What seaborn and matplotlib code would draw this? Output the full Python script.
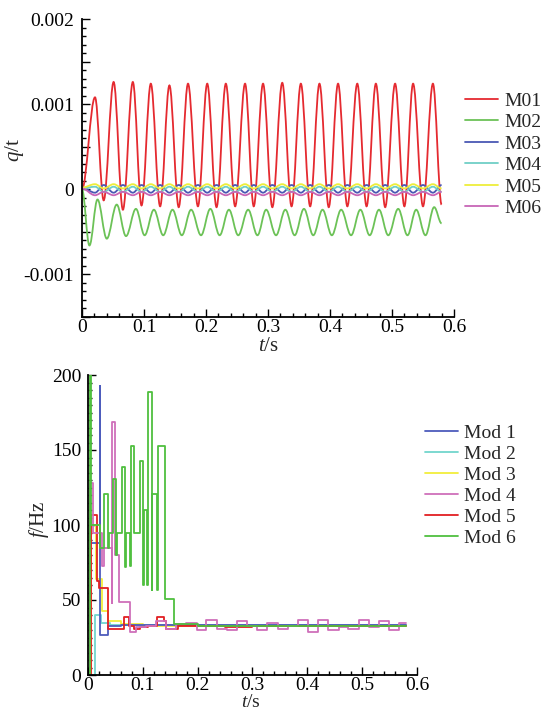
import numpy as np
import pandas as pd
import seaborn as sns
import matplotlib
matplotlib.use("Agg")
import matplotlib.pyplot as plt
from matplotlib.ticker import MultipleLocator, FixedLocator, FixedFormatter
from matplotlib.path import Path
from matplotlib.patches import PathPatch
from matplotlib.lines import Line2D

# ---------------- data ----------------
# upper panel: modal coordinates q/t, extremum points of each curve
t_ext = [0.000, 0.021, 0.035, 0.051, 0.066, 0.082, 0.096, 0.111, 0.126, 0.141,
         0.156, 0.171, 0.187, 0.202, 0.217, 0.232, 0.247, 0.263, 0.277, 0.292,
         0.307, 0.323, 0.338, 0.353, 0.368, 0.383, 0.398, 0.413, 0.428, 0.444,
         0.459, 0.474, 0.489, 0.505, 0.520, 0.534, 0.550, 0.566, 0.580]
m01 = [0.0, 0.00108, -0.00013, 0.00126, -0.00024, 0.00126, -0.00019, 0.00124, -0.00020, 0.00122,
       -0.00021, 0.00124, -0.00020, 0.00124, -0.00021, 0.00124, -0.00020, 0.00124, -0.00020, 0.00124,
       -0.00021, 0.00125, -0.00020, 0.00124, -0.00020, 0.00124, -0.00021, 0.00124, -0.00020, 0.00124,
       -0.00020, 0.00124, -0.00021, 0.00124, -0.00020, 0.00124, -0.00020, 0.00124, -0.00018]
m03 = [0.00002, -0.00004, 0.00005, -0.00004, 0.00005, -0.00004, 0.00005, -0.00004, 0.00005, -0.00004,
       0.00005, -0.00004, 0.00005, -0.00004, 0.00005, -0.00004, 0.00005, -0.00004, 0.00005, -0.00004,
       0.00005, -0.00004, 0.00005, -0.00004, 0.00005, -0.00004, 0.00005, -0.00004, 0.00005, -0.00004,
       0.00005, -0.00004, 0.00005, -0.00004, 0.00005, -0.00004, 0.00005, -0.00004, 0.00005]
m04 = [0.00001, 0.00003, -0.00003, 0.00003, -0.00003, 0.00003, -0.00003, 0.00003, -0.00003, 0.00003,
       -0.00003, 0.00003, -0.00003, 0.00003, -0.00003, 0.00003, -0.00003, 0.00003, -0.00003, 0.00003,
       -0.00003, 0.00003, -0.00003, 0.00003, -0.00003, 0.00003, -0.00003, 0.00003, -0.00003, 0.00003,
       -0.00003, 0.00003, -0.00003, 0.00003, -0.00003, 0.00003, -0.00003, 0.00003, -0.00003]
m05 = [0.00002, 0.00006, 0.00001, 0.00006, 0.00001, 0.00006, 0.00001, 0.00006, 0.00001, 0.00006,
       0.00001, 0.00006, 0.00001, 0.00006, 0.00001, 0.00006, 0.00001, 0.00006, 0.00001, 0.00006,
       0.00001, 0.00006, 0.00001, 0.00006, 0.00001, 0.00006, 0.00001, 0.00006, 0.00001, 0.00006,
       0.00001, 0.00006, 0.00001, 0.00006, 0.00001, 0.00006, 0.00001, 0.00006, 0.00001]
m06 = [0.00001, -0.00007, -0.00003, -0.00007, -0.00003, -0.00007, -0.00003, -0.00007, -0.00003, -0.00007,
       -0.00003, -0.00007, -0.00003, -0.00007, -0.00003, -0.00007, -0.00003, -0.00007, -0.00003, -0.00007,
       -0.00003, -0.00007, -0.00003, -0.00007, -0.00003, -0.00007, -0.00003, -0.00007, -0.00003, -0.00007,
       -0.00003, -0.00007, -0.00003, -0.00007, -0.00003, -0.00007, -0.00003, -0.00007, -0.00003]

t_m02 = [0.000, 0.012, 0.025, 0.040, 0.056, 0.071, 0.087, 0.101, 0.116, 0.131, 0.146, 0.161,
         0.176, 0.192, 0.207, 0.222, 0.237, 0.252, 0.268, 0.283, 0.297, 0.313, 0.328, 0.343,
         0.358, 0.373, 0.388, 0.403, 0.418, 0.434, 0.449, 0.464, 0.479, 0.494, 0.510, 0.525,
         0.539, 0.554, 0.568, 0.580]
m02 = [0.0, -0.00066, -0.00012, -0.00058, -0.00018, -0.00055, -0.00023, -0.00054, -0.00024, -0.00054,
       -0.00024, -0.00054, -0.00024, -0.00054, -0.00023, -0.00054, -0.00024, -0.00054, -0.00024, -0.00054,
       -0.00024, -0.00054, -0.00024, -0.00054, -0.00023, -0.00054, -0.00024, -0.00054, -0.00024, -0.00054,
       -0.00024, -0.00054, -0.00024, -0.00054, -0.00023, -0.00054, -0.00024, -0.00054, -0.00021, -0.00040]

q_names = ["M01", "M02", "M03", "M04", "M05", "M06"]
q_colors = ["#e52a30", "#6cc257", "#4a58b4", "#6fcfc6", "#eeee3a", "#c766b6"]

# lower panel: instantaneous frequency f/Hz (step curves)
mod1_t = [0, 0.004, 0.004, 0.021, 0.021, 0.022, 0.022, 0.037, 0.037, 0.060, 0.060, 0.580]
mod1_f = [0, 0, 88, 88, 193, 193, 27, 27, 33, 33, 33.5, 33.5]
mod2_t = [0, 0.013, 0.013, 0.024, 0.024, 0.040, 0.040, 0.580]
mod2_f = [0, 0, 40, 40, 35, 35, 33.5, 33.5]
mod3_t = [0, 0.006, 0.006, 0.014, 0.014, 0.025, 0.025, 0.037, 0.037, 0.060, 0.060, 0.100, 0.100, 0.580]
mod3_f = [0, 0, 100, 100, 64, 64, 43, 43, 36, 36, 34, 34, 33, 33]
mod4_t = [0, 0.004, 0.004, 0.009, 0.009, 0.025, 0.025, 0.030, 0.030, 0.043, 0.043, 0.0445, 0.0445,
          0.049, 0.049, 0.057, 0.057, 0.077, 0.077,
          0.087, 0.087, 0.105, 0.105, 0.124, 0.124, 0.142, 0.142, 0.161, 0.161, 0.179, 0.179,
          0.198, 0.198, 0.216, 0.216, 0.235, 0.235, 0.253, 0.253, 0.272, 0.272, 0.290, 0.290,
          0.309, 0.309, 0.327, 0.327, 0.346, 0.346, 0.364, 0.364, 0.383, 0.383, 0.401, 0.401,
          0.420, 0.420, 0.438, 0.438, 0.457, 0.457, 0.475, 0.475, 0.494, 0.494, 0.512, 0.512,
          0.531, 0.531, 0.549, 0.549, 0.568, 0.568, 0.580]
mod4_f = [0, 0, 128, 128, 95, 95, 73, 73, 85, 85, 48, 48, 169,
          169, 80, 80, 49, 49, 29,
          29, 32, 32, 33, 33, 36, 36, 31, 31, 34, 34, 35,
          35, 30, 30, 37, 37, 31, 31, 30, 30, 36, 36, 33,
          33, 30, 30, 35, 35, 31, 31, 33, 33, 37, 37, 29,
          29, 37, 37, 30, 30, 32, 32, 31, 31, 37, 37, 32,
          32, 36, 36, 30, 30, 35, 35]
mod5_t = [0, 0.006, 0.006, 0.016, 0.016, 0.020, 0.020, 0.037, 0.037, 0.065, 0.065, 0.075, 0.075,
          0.083, 0.083, 0.095, 0.095, 0.110, 0.110, 0.125, 0.125, 0.138, 0.138, 0.143, 0.143,
          0.165, 0.165, 0.250, 0.250, 0.300, 0.300, 0.400, 0.400, 0.450, 0.450, 0.580]
mod5_f = [0, 0, 107, 107, 63, 63, 58, 58, 31, 31, 39, 39, 33,
          33, 31, 31, 32, 32, 33, 33, 39, 39, 36, 36, 31,
          31, 33, 33, 32, 32, 33, 33, 32.5, 32.5, 33, 33]
mod6_t = [0, 0.003, 0.003, 0.005, 0.005, 0.022, 0.022, 0.030, 0.030, 0.036, 0.036, 0.038, 0.038,
          0.046, 0.046, 0.051, 0.051, 0.0525, 0.0525, 0.062, 0.062, 0.068, 0.068, 0.0695, 0.0695,
          0.0765, 0.0765, 0.078, 0.078, 0.084, 0.084, 0.094, 0.094, 0.100, 0.100, 0.1015, 0.1015,
          0.108, 0.108, 0.1095, 0.1095, 0.116, 0.116, 0.1175, 0.1175, 0.126, 0.126, 0.1275, 0.1275,
          0.140, 0.140, 0.156, 0.156, 0.200, 0.200, 0.580]
mod6_f = [0, 0, 205, 205, 100, 100, 85, 85, 121, 121, 85, 85, 95,
          95, 131, 131, 80, 80, 95, 95, 139, 139, 72, 72, 95,
          95, 73, 73, 153, 153, 95, 95, 143, 143, 60, 60, 110,
          110, 60, 60, 189, 189, 57, 57, 121, 121, 57, 57, 153,
          153, 51, 51, 34, 34, 33, 33]

f_names = ["Mod 1", "Mod 2", "Mod 3", "Mod 4", "Mod 5", "Mod 6"]
f_colors = ["#4d5cbc", "#72d6cd", "#f2ee3c", "#cf6fba", "#e21f22", "#4fbf3f"]

q_ticks = [-0.0015, -0.001, -0.0005, 0, 0.0005, 0.001, 0.0015, 0.002]
q_ticklabels = ["", "-0.001", "", "0", "", "0.001", "", "0.002"]
t_ticks = [0, 0.1, 0.2, 0.3, 0.4, 0.5, 0.6]
t_ticklabels = ["0", "0.1", "0.2", "0.3", "0.4", "0.5", "0.6"]

# ---------------- style ----------------
sns.set_style("ticks")
plt.rcParams["font.family"] = ["Liberation Serif", "DejaVu Serif"]
plt.rcParams["mathtext.fontset"] = "custom"
plt.rcParams["mathtext.rm"] = "Liberation Serif"
plt.rcParams["mathtext.it"] = "Liberation Serif:italic"

fig = plt.figure(figsize=(5.44, 7.10), dpi=100)
ax1 = fig.add_axes([82 / 544, 1 - 317 / 710, 372 / 544, 298 / 710])
ax2 = fig.add_axes([88 / 544, 1 - 675 / 710, 329 / 544, 300 / 710])


def style_axis(ax):
    sns.despine(ax=ax)
    for s in ["left", "bottom"]:
        ax.spines[s].set_linewidth(1.3)
        ax.spines[s].set_color("black")
    ax.tick_params(which="both", direction="in", colors="black", labelsize=14, width=1.0)
    ax.tick_params(which="major", length=6)
    ax.tick_params(which="minor", length=3)
    ax.tick_params(axis="x", pad=1.5)


def smooth_curve(ax, tt, vals, color):
    # smooth wave through the extremum points (flat tangents at each one)
    verts = [(tt[0], vals[0])]
    codes = [Path.MOVETO]
    for i in range(len(tt) - 1):
        dt = tt[i + 1] - tt[i]
        verts += [(tt[i] + 0.36 * dt, vals[i]), (tt[i + 1] - 0.36 * dt, vals[i + 1]), (tt[i + 1], vals[i + 1])]
        codes += [Path.CURVE4] * 3
    ax.add_patch(PathPatch(Path(verts, codes), facecolor="none", edgecolor=color, lw=1.3))


# ---------------- upper panel ----------------
top_series = [(t_ext, m01), (t_m02, m02), (t_ext, m03), (t_ext, m04), (t_ext, m05), (t_ext, m06)]
for (tt, vals), col in zip(top_series, q_colors):
    smooth_curve(ax1, tt, vals, col)

ax1.set_xlim(0, 0.6)
ax1.set_ylim(-0.0015, 0.002)
ax1.xaxis.set_major_locator(FixedLocator(t_ticks))
ax1.xaxis.set_major_formatter(FixedFormatter(t_ticklabels))
ax1.xaxis.set_minor_locator(MultipleLocator(0.02))
ax1.yaxis.set_major_locator(FixedLocator(q_ticks))
ax1.yaxis.set_major_formatter(FixedFormatter(q_ticklabels))
ax1.yaxis.set_minor_locator(MultipleLocator(0.0001))
style_axis(ax1)
ax1.tick_params(axis="y", pad=6)
ax1.set_xlabel(r"$t$/s", fontsize=15)
ax1.xaxis.set_label_coords(0.5, -0.068)
ax1.set_ylabel(r"$q$/t", fontsize=15)
ax1.yaxis.set_label_coords(-0.15, 0.56)
q_handles = [Line2D([], [], color=c, lw=1.3) for c in q_colors]
ax1.legend(q_handles, q_names, loc="upper left", bbox_to_anchor=(1.03, 0.755), frameon=False, fontsize=14,
           handlelength=1.7, handletextpad=0.3, labelspacing=0.2, borderpad=0, borderaxespad=0)

# ---------------- lower panel ----------------
bottom_series = [(mod1_t, mod1_f), (mod2_t, mod2_f), (mod3_t, mod3_f),
                 (mod4_t, mod4_f), (mod5_t, mod5_f), (mod6_t, mod6_f)]
order = [1, 2, 0, 4, 3, 5]  # drawing order, legend keeps Mod 1..6
handles = {}
for i in order:
    tt, ff = bottom_series[i]
    sns.lineplot(x=tt, y=ff, sort=False, estimator=None, color=f_colors[i], lw=1.3, ax=ax2)
    handles[i] = ax2.lines[-1]

ax2.set_xlim(0, 0.6)
ax2.set_ylim(0, 200)
ax2.xaxis.set_major_locator(FixedLocator(t_ticks))
ax2.xaxis.set_major_formatter(FixedFormatter(t_ticklabels))
ax2.xaxis.set_minor_locator(MultipleLocator(0.02))
ax2.yaxis.set_major_locator(MultipleLocator(50))
ax2.yaxis.set_minor_locator(MultipleLocator(5))
style_axis(ax2)
ax2.tick_params(axis="y", pad=5)
ax2.set_xlabel(r"$t$/s", fontsize=14)
ax2.xaxis.set_label_coords(0.495, -0.062)
ax2.set_ylabel(r"$f$/Hz", fontsize=15)
ax2.yaxis.set_label_coords(-0.112, 0.52)
ax2.legend([handles[i] for i in range(6)], f_names, loc="upper left", bbox_to_anchor=(1.024, 0.835),
           frameon=False, fontsize=14, handlelength=1.7, handletextpad=0.3, labelspacing=0.17,
           borderpad=0, borderaxespad=0)

fig.savefig("out.png", dpi=100)
